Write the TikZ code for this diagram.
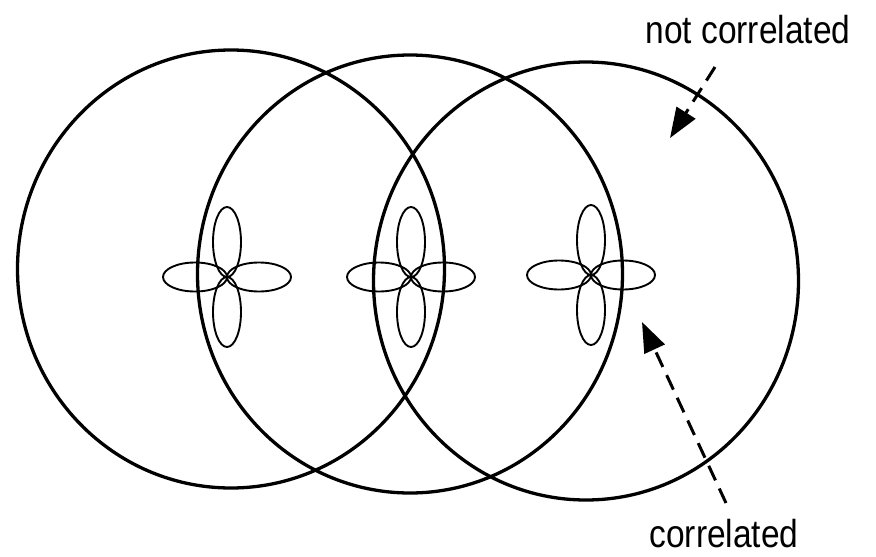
\documentclass[tikz,border=0pt]{standalone}
\usepackage{fontspec}
\setmainfont{Liberation Sans}
\usetikzlibrary{arrows.meta}
\newcommand{\narrowtxt}[1]{\scalebox{0.86}[1]{#1}}
\begin{document}
\begin{tikzpicture}[x=1pt,y=-1pt,
  ring/.style={line width=3.3pt},
  lobe/.style={line width=1.9pt},
  pointer/.style={line width=3pt, dash pattern=on 16pt off 9pt, -{Triangle[length=30pt,width=22pt]}},
  lbl/.style={font=\fontsize{39}{43}\selectfont, inner sep=0pt}]
\useasboundingbox (0,0) rectangle (876,557);
% three large circles
\draw[ring] (231,269) ellipse [x radius=213.5, y radius=219];
\draw[ring] (410,274) ellipse [x radius=212.5, y radius=219];
\draw[ring] (586,281) ellipse [x radius=212.5, y radius=219];
% four-lobed patterns
\foreach \cx/\cy in {227/277, 411/277, 591/275} {
  \draw[lobe] (\cx-32,\cy) ellipse [x radius=32, y radius=14.5];
  \draw[lobe] (\cx+32,\cy) ellipse [x radius=32, y radius=14.5];
  \draw[lobe] (\cx,\cy-35) ellipse [x radius=14, y radius=35];
  \draw[lobe] (\cx,\cy+35) ellipse [x radius=14, y radius=35];
}
% labels
\node[lbl] (nc) at (748,30) {\narrowtxt{not correlated}};
\node[lbl] (co) at (724,534) {\narrowtxt{correlated}};
% pointers
\coordinate (nctail) at (715,67);
\coordinate (nctip) at (670,138);
\coordinate (ctail) at (726,503);
\coordinate (ctip) at (642,322);
\draw[pointer] (nctail) -- (nctip);
\draw[pointer] (ctail) -- (ctip);
\end{tikzpicture}
\end{document}
